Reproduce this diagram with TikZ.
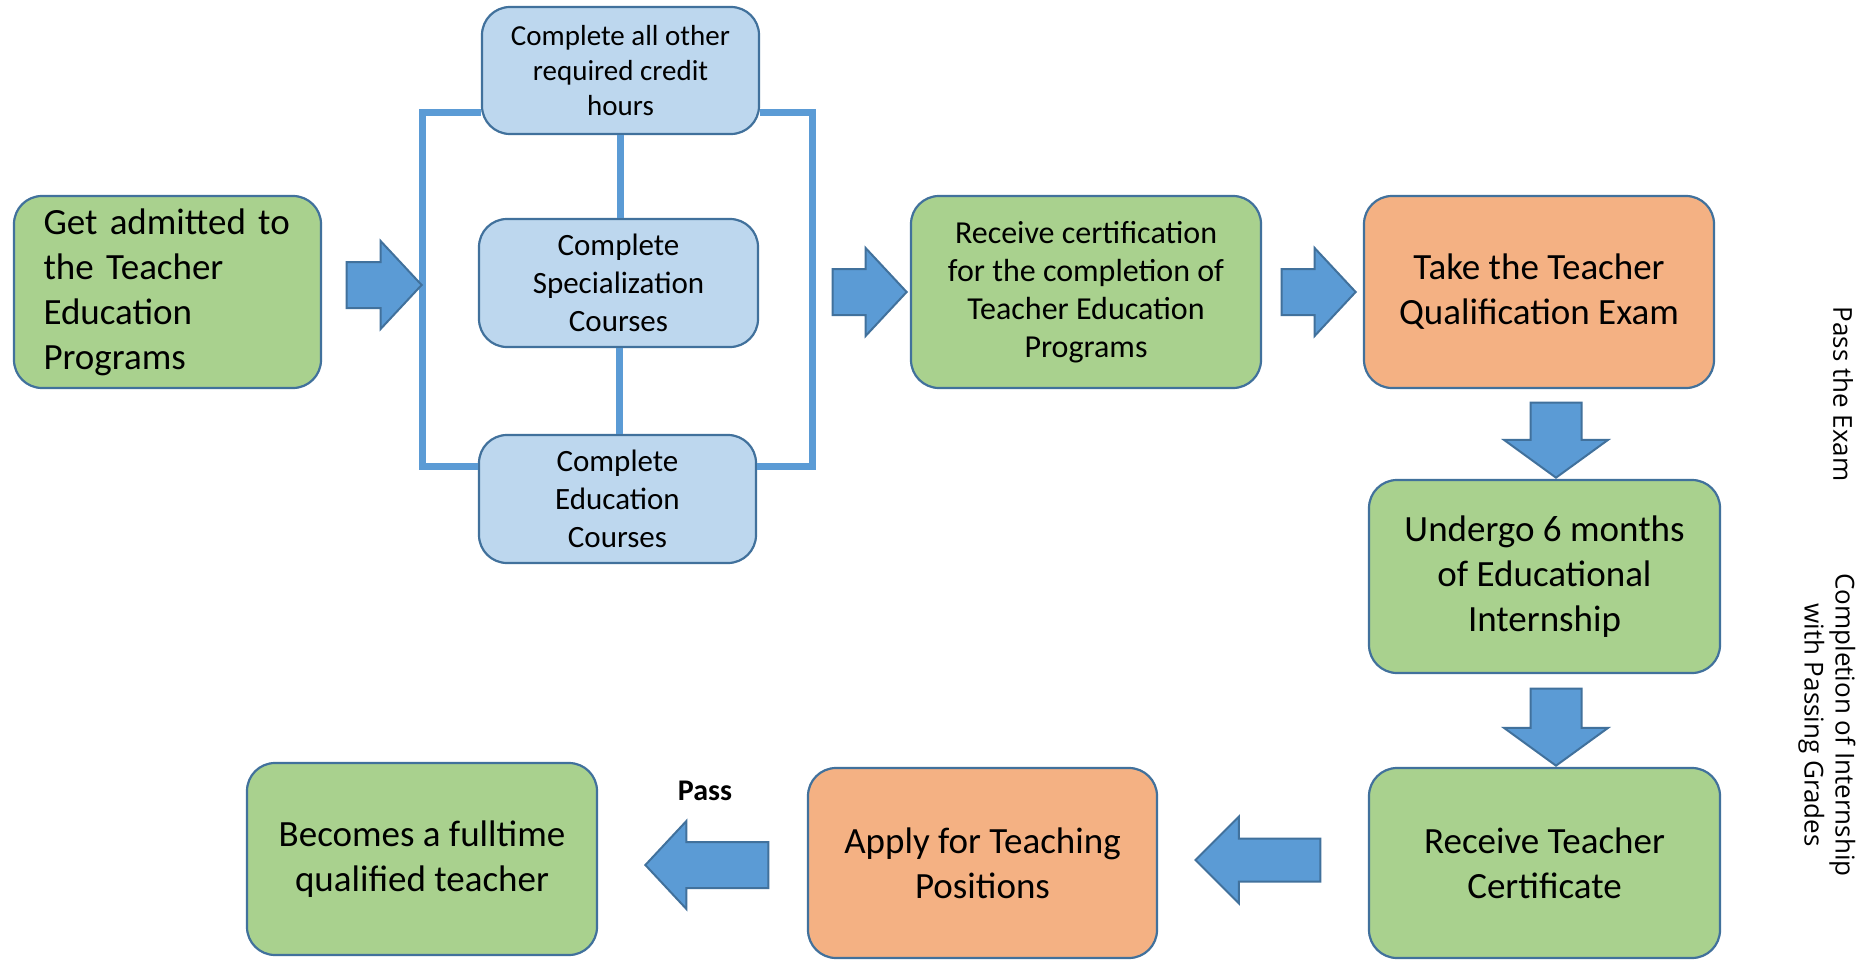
\documentclass[tikz,border=0pt]{standalone}
\usepackage{fontspec}
\setmainfont{Carlito}
\newfontfamily\sidefont{Open Sans}
\usetikzlibrary{shapes.arrows, positioning}

\definecolor{boxline}{HTML}{41719C}
\definecolor{stepgreen}{HTML}{A9D18E}
\definecolor{stepblue}{HTML}{BDD7EE}
\definecolor{steporange}{HTML}{F4B183}
\definecolor{arrowblue}{HTML}{5B9BD5}

\tikzset{
  stepbox/.style={draw=boxline, line width=2.2, rounded corners=28, align=center, inner sep=0,
    font=\fontsize{37}{45}\selectfont},
  greenbox/.style={stepbox, fill=stepgreen},
  orangebox/.style={stepbox, fill=steporange},
  bluebox/.style={stepbox, fill=stepblue, minimum width=277, minimum height=128,
    font=\fontsize{31}{38}\selectfont},
  bigarrow/.style={single arrow, draw=boxline, fill=arrowblue, line width=2, inner xsep=0, inner ysep=22,
    single arrow tip angle=94, single arrow head extend=21, anchor=tip},
  downarrow/.style={bigarrow, rotate=-90, inner ysep=24.5, single arrow head extend=26.5,
    single arrow tip angle=108},
  bracket/.style={draw=arrowblue, line width=7},
  sidelabel/.style={rotate=-90, align=center, inner sep=0, font=\sidefont\fontsize{26}{31}\selectfont},
}

\begin{document}
\begin{tikzpicture}[x=1pt, y=-1pt]
   \fill[white] (0,0) rectangle (1865,960);
   \useasboundingbox (0,0) rectangle (1865,960);
   % first row
   \node[greenbox, minimum width=307, minimum height=192, text width=248, align=left] (admit) at (167.5,292)
      {Get admitted to\\the Teacher\\Education\\Programs};
   \node[bluebox, font=\fontsize{29}{35}\selectfont, minimum height=127] (credit) at (620.5,70.5)
      {Complete all other\\required credit\\hours};
   \node[bluebox, minimum width=279] (special) at (618.5,283) {Complete\\Specialization\\Courses};
   \node[bluebox] (educ) at (617.5,499) {Complete\\Education\\Courses};
   \node[greenbox, minimum width=350, minimum height=192, font=\fontsize{32}{38}\selectfont] (certif) at (1086,292)
      {Receive certification\\for the completion of\\Teacher Education\\Programs};
   \node[orangebox, minimum width=350, minimum height=192] (exam) at (1539,292)
      {Take the Teacher\\Qualification Exam};
   % right column and bottom row
   \node[greenbox, minimum width=351, minimum height=193] (intern) at (1544.5,576.5)
      {Undergo 6 months\\of Educational\\Internship};
   \node[greenbox, minimum width=351, minimum height=190] (teachcert) at (1544.5,863)
      {Receive Teacher\\Certificate};
   \node[orangebox, minimum width=349, minimum height=190] (apply) at (982.5,863)
      {Apply for Teaching\\Positions};
   \node[greenbox, minimum width=350, minimum height=192] (fulltime) at (422,859)
      {Becomes a fulltime\\qualified teacher};

   % bracket round the three course boxes
   \coordinate (brtl) at (422.5,113);
   \coordinate (brbl) at (422.5,466);
   \coordinate (brtr) at (812,113);
   \coordinate (brbr) at (812,466);
   \draw[bracket] (credit.west |- brtl) -- (brtl) -- (brbl) -- (educ.west |- brbl);
   \draw[bracket] (credit.east |- brtr) -- (brtr) -- (brbr) -- (educ.east |- brbr);
   \draw[bracket] (credit.south -| 620,0) -- (special.north -| 620,0);
   \draw[bracket] (special.south -| 619,0) -- (educ.north -| 619,0);

   % block arrows, placed by their tips
   \node[bigarrow, minimum height=75] (arr1) at (423,285) {};
   \node[bigarrow, minimum height=74] (arr2) at (908,292) {};
   \node[bigarrow, minimum height=74] (arr3) at (1357,292) {};
   \node[downarrow, minimum height=75] (arr4) at (intern.north -| 1556,0) {};
   \node[downarrow, minimum height=77] (arr5) at (teachcert.north -| 1556,0) {};
   \node[bigarrow, rotate=180, minimum height=125, inner ysep=20.5, single arrow head extend=22,
      single arrow tip angle=90] (arr6) at (1194,860) {};
   \node[bigarrow, rotate=180, minimum height=123] (arr7) at (644,865) {};

   % labels
   \node[font=\bfseries\fontsize{30}{34}\selectfont] (passlbl) at (705,791) {Pass};
   \node[sidelabel] (passexam) at (1843,394) {Pass the Exam};
   \node[sidelabel] (passgrades) at (1827,725) {Completion of Internship\\with Passing Grades};
\end{tikzpicture}
\end{document}
